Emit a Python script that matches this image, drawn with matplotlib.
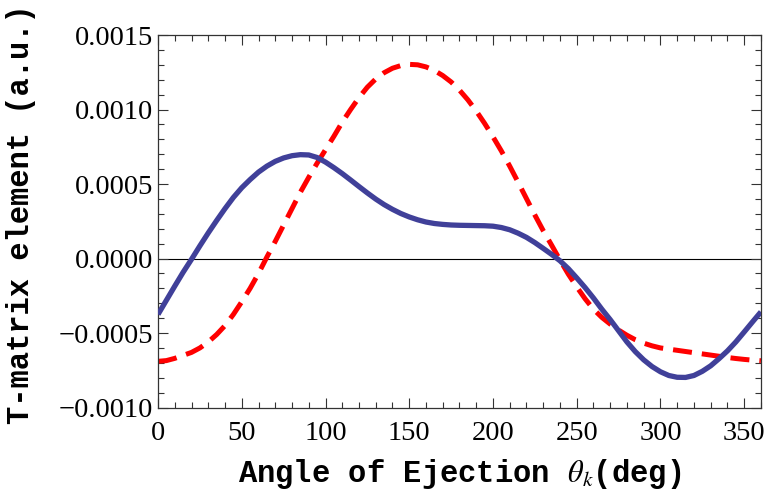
import matplotlib.pyplot as plt
from matplotlib.ticker import MultipleLocator, FuncFormatter

plt.rcParams['mathtext.fontset'] = 'stix'

# angle of ejection (deg)
angle = list(range(0, 365, 5))

# T-matrix element, in units of 1e-4
blue_vals = [-3.75, -2.8, -1.85, -0.92, -0.05, 0.85, 1.72, 2.55, 3.35, 4.1,
             4.75, 5.3, 5.8, 6.2, 6.52, 6.75, 6.9, 6.97, 6.95, 6.78,
             6.47, 6.1, 5.7, 5.27, 4.83, 4.4, 3.99, 3.62, 3.3, 3.02,
             2.79, 2.6, 2.45, 2.35, 2.29, 2.25, 2.23, 2.22, 2.21, 2.2,
             2.17, 2.08, 1.93, 1.7, 1.42, 1.07, 0.68, 0.28, -0.15, -0.68,
             -1.3, -1.95, -2.65, -3.4, -4.1, -4.85, -5.6, -6.25, -6.8, -7.25,
             -7.6, -7.85, -7.97, -7.98, -7.85, -7.57, -7.2, -6.72, -6.2, -5.6,
             -4.93, -4.25, -3.58]
red_vals = [-6.9, -6.85, -6.7, -6.5, -6.3, -6.0, -5.6, -5.1, -4.5, -3.75,
            -2.9, -2.0, -1.0, 0.1, 1.15, 2.25, 3.35, 4.45, 5.45, 6.4,
            7.3, 8.2, 9.15, 10.0, 10.8, 11.5, 12.05, 12.47, 12.77, 12.95,
            13.03, 13.0, 12.86, 12.62, 12.28, 11.85, 11.3, 10.65, 9.9, 9.07,
            8.17, 7.22, 6.2, 5.12, 4.02, 2.92, 1.87, 0.9, -0.1, -1.05,
            -1.9, -2.7, -3.4, -3.95, -4.4, -4.8, -5.15, -5.45, -5.68, -5.86,
            -6.0, -6.08, -6.16, -6.24, -6.32, -6.4, -6.48, -6.56, -6.64, -6.71,
            -6.77, -6.82, -6.86]

blue = [v * 1e-4 for v in blue_vals]
red = [v * 1e-4 for v in red_vals]


def fmt(v, pos):
    if abs(v) < 1e-12:
        return '0.0000'
    return ('%.4f' % v).replace('-', '\u2212')


fig = plt.figure(figsize=(7.69, 4.91), dpi=100)
ax = fig.add_axes([0.2055, 0.170, 0.784, 0.7587])

ax.axhline(0, color='black', linewidth=0.8, zorder=1)
ax.plot(angle, red, color='#ff0000', linewidth=3.6, linestyle=(0, (3.8, 2.0)),
        dash_capstyle='butt', zorder=2)
ax.plot(angle, blue, color='#404099', linewidth=3.8, solid_capstyle='butt',
        solid_joinstyle='round', zorder=3)

ax.set_xlim(0, 360)
ax.set_ylim(-0.001, 0.0015)

ax.xaxis.set_major_locator(MultipleLocator(50))
ax.xaxis.set_minor_locator(MultipleLocator(10))
ax.yaxis.set_major_locator(MultipleLocator(0.0005))
ax.yaxis.set_minor_locator(MultipleLocator(0.0001))
ax.yaxis.set_major_formatter(FuncFormatter(fmt))

ax.tick_params(which='both', direction='in', top=True, right=True,
               width=0.8, colors='#333333')
ax.tick_params(which='major', length=7)
ax.tick_params(which='minor', length=4)
ax.tick_params(axis='x', which='major', pad=9.5)
ax.tick_params(axis='y', which='major', pad=3.5)
for lab in ax.get_xticklabels() + ax.get_yticklabels():
    lab.set_fontfamily('Liberation Serif')
    lab.set_fontsize(20.5)
    lab.set_color('black')
for s in ax.spines.values():
    s.set_linewidth(0.9)
    s.set_color('#333333')

ax.set_xlabel(r'Angle of Ejection $\theta_k$(deg)', fontfamily='Liberation Mono',
              fontweight='bold', fontsize=22)
ax.set_ylabel('T-matrix element (a.u.)', fontfamily='Liberation Mono',
              fontweight='bold', fontsize=22)
ax.xaxis.set_label_coords(0.5, -0.133)
ax.yaxis.set_label_coords(-0.203, 0.52)

fig.savefig('out.png', dpi=100)
